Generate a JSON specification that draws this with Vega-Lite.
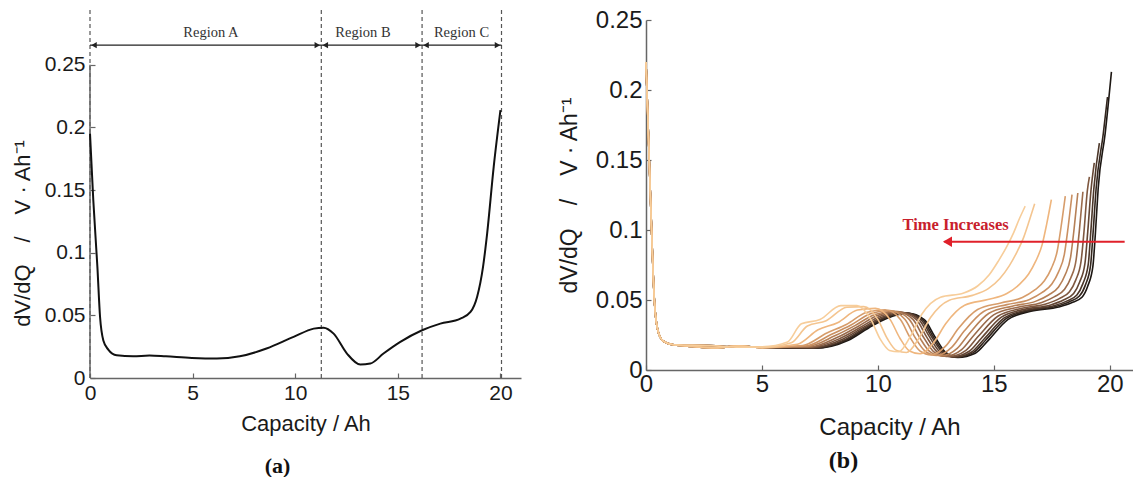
{
  "$schema": "https://vega.github.io/schema/vega-lite/v6.json",
  "padding": {"left": 11, "top": 8, "right": 0, "bottom": 0},
  "background": "white",
  "config": {
    "view": {"stroke": null},
    "axis": {
      "grid": false,
      "labelFlush": false,
      "labelFont": "Liberation Sans",
      "titleFont": "Liberation Sans",
      "titleFontWeight": "normal",
      "domainColor": "#666666",
      "domainWidth": 1.5,
      "tickColor": "#666666",
      "tickSize": -5,
      "tickWidth": 1.2,
      "labelColor": "#1a1a1a",
      "titleColor": "#1a1a1a",
      "labelPadding": 9
    }
  },
  "datasets": {
    "acurve": [
      {"x":0,"y":0.195},{"x":0.16,"y":0.142},{"x":0.36,"y":0.0887},{"x":0.49,"y":0.0487},{"x":0.65,"y":0.030},{"x":0.89,"y":0.0227},{"x":1.3,"y":0.0181},{"x":2.1,"y":0.0173},{"x":2.9,"y":0.0180},{"x":3.7,"y":0.0173},{"x":4.96,"y":0.016},{"x":6.18,"y":0.0155},{"x":7.3,"y":0.0173},{"x":8.6,"y":0.0235},{"x":9.92,"y":0.0328},{"x":10.9,"y":0.0394},{"x":11.38,"y":0.0402},{"x":11.87,"y":0.0354},{"x":12.52,"y":0.0195},{"x":13.17,"y":0.0107},{"x":13.66,"y":0.0115},{"x":14.3,"y":0.0195},{"x":15.12,"y":0.0288},{"x":16.18,"y":0.0381},{"x":17.07,"y":0.0434},{"x":18.05,"y":0.0474},{"x":18.54,"y":0.0527},{"x":18.86,"y":0.0647},{"x":19.15,"y":0.0887},{"x":19.35,"y":0.1153},{"x":19.67,"y":0.1685},{"x":20.0,"y":0.2138}
    ],
    "dash": [
      {"x":0,"y":0,"y2":0.2937},{"x":11.27,"y":0,"y2":0.2937},{"x":16.18,"y":0,"y2":0.2937},{"x":20.05,"y":0,"y2":0.2937}
    ],
    "yaxis": [{"x":0,"y":0,"y2":0.25}],
    "spans": [
      {"x":0,"xe":11.27,"y":0.2656},{"x":11.27,"xe":16.18,"y":0.2656},{"x":16.18,"xe":20.05,"y":0.2656}
    ],
    "labels": [
      {"x":5.89,"y":0.2755,"t":"Region A"},{"x":13.3,"y":0.2755,"t":"Region B"},{"x":18.1,"y":0.2755,"t":"Region C"}
    ],
    "timearrow": [{"x":12.87,"xe":20.64,"y":0.0916,"tx":13.35,"ty":0.1035,"t":"Time Increases"}],
    "bcurves": [
      {"c":0,"x":0,"y":0.22},{"c":0,"x":0.1,"y":0.17},{"c":0,"x":0.22,"y":0.11},{"c":0,"x":0.36,"y":0.05},{"c":0,"x":0.5,"y":0.029},{"c":0,"x":0.72,"y":0.021},{"c":0,"x":1.2,"y":0.018},{"c":0,"x":2,"y":0.0168},{"c":0,"x":3,"y":0.0158},{"c":0,"x":4,"y":0.0172},{"c":0,"x":5,"y":0.016},
      {"c":0,"x":7.3,"y":0.0155},{"c":0,"x":8.7,"y":0.021},{"c":0,"x":9.6,"y":0.030},{"c":0,"x":10.4,"y":0.037},{"c":0,"x":11.3,"y":0.0405},{"c":0,"x":12.0,"y":0.036},{"c":0,"x":12.45,"y":0.024},{"c":0,"x":12.9,"y":0.013},{"c":0,"x":13.45,"y":0.009},{"c":0,"x":14.2,"y":0.012},{"c":0,"x":14.75,"y":0.021},{"c":0,"x":15.6,"y":0.036},{"c":0,"x":16.6,"y":0.042},{"c":0,"x":17.8,"y":0.045},{"c":0,"x":18.35,"y":0.048},{"c":0,"x":18.8,"y":0.052},{"c":0,"x":19.05,"y":0.06},{"c":0,"x":19.27,"y":0.074},{"c":0,"x":19.38,"y":0.098},{"c":0,"x":19.5,"y":0.13},{"c":0,"x":19.8,"y":0.169},{"c":0,"x":20.07,"y":0.213},

      {"c":1,"x":0,"y":0.22},{"c":1,"x":0.1,"y":0.17},{"c":1,"x":0.22,"y":0.11},{"c":1,"x":0.36,"y":0.05},{"c":1,"x":0.5,"y":0.029},{"c":1,"x":0.72,"y":0.021},{"c":1,"x":1.2,"y":0.018},{"c":1,"x":2,"y":0.0178},{"c":1,"x":3,"y":0.0172},{"c":1,"x":4,"y":0.0162},{"c":1,"x":5,"y":0.0165},
      {"c":1,"x":7.264,"y":0.0156},{"c":1,"x":8.64,"y":0.0214},{"c":1,"x":9.537,"y":0.0302},{"c":1,"x":10.34,"y":0.0373},{"c":1,"x":11.234,"y":0.0407},{"c":1,"x":11.931,"y":0.036},{"c":1,"x":12.38,"y":0.0239},{"c":1,"x":12.828,"y":0.013},{"c":1,"x":13.37,"y":0.0091},{"c":1,"x":14.116,"y":0.0124},{"c":1,"x":14.66,"y":0.0216},{"c":1,"x":15.51,"y":0.0365},{"c":1,"x":16.51,"y":0.0424},{"c":1,"x":17.7,"y":0.0455},{"c":1,"x":18.24,"y":0.0486},{"c":1,"x":18.69,"y":0.0528},{"c":1,"x":18.95,"y":0.0608},{"c":1,"x":19.17,"y":0.0747},{"c":1,"x":19.28,"y":0.0983},{"c":1,"x":19.41,"y":0.1296},{"c":1,"x":19.72,"y":0.169},{"c":1,"x":19.9,"y":0.195},

      {"c":2,"x":0,"y":0.22},{"c":2,"x":0.1,"y":0.17},{"c":2,"x":0.22,"y":0.11},{"c":2,"x":0.36,"y":0.05},{"c":2,"x":0.5,"y":0.029},{"c":2,"x":0.72,"y":0.021},{"c":2,"x":1.2,"y":0.018},{"c":2,"x":2,"y":0.0168},{"c":2,"x":3,"y":0.0158},{"c":2,"x":4,"y":0.0172},{"c":2,"x":5,"y":0.016},
      {"c":2,"x":7.228,"y":0.0158},{"c":2,"x":8.58,"y":0.0217},{"c":2,"x":9.474,"y":0.0304},{"c":2,"x":10.28,"y":0.0375},{"c":2,"x":11.17,"y":0.0408},{"c":2,"x":11.86,"y":0.036},{"c":2,"x":12.31,"y":0.0239},{"c":2,"x":12.76,"y":0.0131},{"c":2,"x":13.3,"y":0.0092},{"c":2,"x":14.03,"y":0.0127},{"c":2,"x":14.58,"y":0.0221},{"c":2,"x":15.43,"y":0.037},{"c":2,"x":16.43,"y":0.0428},{"c":2,"x":17.59,"y":0.0459},{"c":2,"x":18.14,"y":0.0492},{"c":2,"x":18.58,"y":0.0536},{"c":2,"x":18.84,"y":0.0617},{"c":2,"x":19.07,"y":0.0754},{"c":2,"x":19.18,"y":0.0986},{"c":2,"x":19.31,"y":0.1292},{"c":2,"x":19.55,"y":0.162},

      {"c":3,"x":0,"y":0.22},{"c":3,"x":0.1,"y":0.17},{"c":3,"x":0.22,"y":0.11},{"c":3,"x":0.36,"y":0.05},{"c":3,"x":0.5,"y":0.029},{"c":3,"x":0.72,"y":0.021},{"c":3,"x":1.2,"y":0.018},{"c":3,"x":2,"y":0.0178},{"c":3,"x":3,"y":0.0172},{"c":3,"x":4,"y":0.0162},{"c":3,"x":5,"y":0.0165},
      {"c":3,"x":7.18,"y":0.016},{"c":3,"x":8.5,"y":0.0222},{"c":3,"x":9.39,"y":0.0306},{"c":3,"x":10.2,"y":0.0379},{"c":3,"x":11.08,"y":0.0411},{"c":3,"x":11.77,"y":0.036},{"c":3,"x":12.22,"y":0.0238},{"c":3,"x":12.66,"y":0.0131},{"c":3,"x":13.2,"y":0.0094},{"c":3,"x":13.92,"y":0.0132},{"c":3,"x":14.47,"y":0.0229},{"c":3,"x":15.31,"y":0.0376},{"c":3,"x":16.31,"y":0.0433},{"c":3,"x":17.45,"y":0.0465},{"c":3,"x":18.0,"y":0.05},{"c":3,"x":18.44,"y":0.0546},{"c":3,"x":18.7,"y":0.0628},{"c":3,"x":18.93,"y":0.0764},{"c":3,"x":19.05,"y":0.099},{"c":3,"x":19.19,"y":0.1287},{"c":3,"x":19.33,"y":0.148},

      {"c":4,"x":0,"y":0.22},{"c":4,"x":0.1,"y":0.17},{"c":4,"x":0.22,"y":0.11},{"c":4,"x":0.36,"y":0.05},{"c":4,"x":0.5,"y":0.029},{"c":4,"x":0.72,"y":0.021},{"c":4,"x":1.2,"y":0.018},{"c":4,"x":2,"y":0.0168},{"c":4,"x":3,"y":0.0158},{"c":4,"x":4,"y":0.0172},{"c":4,"x":5,"y":0.016},
      {"c":4,"x":7.12,"y":0.0162},{"c":4,"x":8.4,"y":0.0228},{"c":4,"x":9.29,"y":0.0309},{"c":4,"x":10.1,"y":0.0384},{"c":4,"x":10.97,"y":0.0413},{"c":4,"x":11.66,"y":0.036},{"c":4,"x":12.1,"y":0.0237},{"c":4,"x":12.54,"y":0.0132},{"c":4,"x":13.07,"y":0.0096},{"c":4,"x":13.78,"y":0.0138},{"c":4,"x":14.32,"y":0.0239},{"c":4,"x":15.17,"y":0.0384},{"c":4,"x":16.17,"y":0.044},{"c":4,"x":17.28,"y":0.0473},{"c":4,"x":17.82,"y":0.051},{"c":4,"x":18.26,"y":0.0559},{"c":4,"x":18.53,"y":0.0642},{"c":4,"x":18.76,"y":0.0776},{"c":4,"x":18.89,"y":0.0995},{"c":4,"x":19.03,"y":0.128},{"c":4,"x":19.12,"y":0.138},

      {"c":5,"x":0,"y":0.22},{"c":5,"x":0.1,"y":0.17},{"c":5,"x":0.22,"y":0.11},{"c":5,"x":0.36,"y":0.05},{"c":5,"x":0.5,"y":0.029},{"c":5,"x":0.72,"y":0.021},{"c":5,"x":1.2,"y":0.018},{"c":5,"x":2,"y":0.0178},{"c":5,"x":3,"y":0.0172},{"c":5,"x":4,"y":0.0162},{"c":5,"x":5,"y":0.0165},
      {"c":5,"x":7.05,"y":0.0164},{"c":5,"x":8.28,"y":0.0235},{"c":5,"x":9.16,"y":0.0313},{"c":5,"x":9.98,"y":0.0389},{"c":5,"x":10.84,"y":0.0417},{"c":5,"x":11.52,"y":0.036},{"c":5,"x":11.96,"y":0.0236},{"c":5,"x":12.4,"y":0.0132},{"c":5,"x":12.91,"y":0.0098},{"c":5,"x":13.61,"y":0.0145},{"c":5,"x":14.15,"y":0.025},{"c":5,"x":14.99,"y":0.0394},{"c":5,"x":15.99,"y":0.0447},{"c":5,"x":17.07,"y":0.0482},{"c":5,"x":17.6,"y":0.0522},{"c":5,"x":18.04,"y":0.0575},{"c":5,"x":18.32,"y":0.0659},{"c":5,"x":18.55,"y":0.079},{"c":5,"x":18.69,"y":0.1001},{"c":5,"x":18.84,"y":0.1273},

      {"c":6,"x":0,"y":0.22},{"c":6,"x":0.1,"y":0.17},{"c":6,"x":0.22,"y":0.11},{"c":6,"x":0.36,"y":0.05},{"c":6,"x":0.5,"y":0.029},{"c":6,"x":0.72,"y":0.021},{"c":6,"x":1.2,"y":0.018},{"c":6,"x":2,"y":0.0168},{"c":6,"x":3,"y":0.0158},{"c":6,"x":4,"y":0.0172},{"c":6,"x":5,"y":0.016},
      {"c":6,"x":6.96,"y":0.0168},{"c":6,"x":8.14,"y":0.0244},{"c":6,"x":9.01,"y":0.0317},{"c":6,"x":9.84,"y":0.0395},{"c":6,"x":10.68,"y":0.042},{"c":6,"x":11.36,"y":0.036},{"c":6,"x":11.79,"y":0.0234},{"c":6,"x":12.23,"y":0.0133},{"c":6,"x":12.74,"y":0.0101},{"c":6,"x":13.42,"y":0.0154},{"c":6,"x":13.95,"y":0.0263},{"c":6,"x":14.79,"y":0.0405},{"c":6,"x":15.79,"y":0.0456},{"c":6,"x":16.82,"y":0.0492},{"c":6,"x":17.36,"y":0.0536},{"c":6,"x":17.79,"y":0.0593},{"c":6,"x":18.07,"y":0.0678},{"c":6,"x":18.31,"y":0.0807},{"c":6,"x":18.46,"y":0.1008},{"c":6,"x":18.62,"y":0.1264},

      {"c":7,"x":0,"y":0.22},{"c":7,"x":0.1,"y":0.17},{"c":7,"x":0.22,"y":0.11},{"c":7,"x":0.36,"y":0.05},{"c":7,"x":0.5,"y":0.029},{"c":7,"x":0.72,"y":0.021},{"c":7,"x":1.2,"y":0.018},{"c":7,"x":2,"y":0.0178},{"c":7,"x":3,"y":0.0172},{"c":7,"x":4,"y":0.0162},{"c":7,"x":5,"y":0.0165},
      {"c":7,"x":6.87,"y":0.0171},{"c":7,"x":7.98,"y":0.0253},{"c":7,"x":8.84,"y":0.0322},{"c":7,"x":9.68,"y":0.0402},{"c":7,"x":10.51,"y":0.0425},{"c":7,"x":11.17,"y":0.036},{"c":7,"x":11.6,"y":0.0233},{"c":7,"x":12.04,"y":0.0134},{"c":7,"x":12.53,"y":0.0104},{"c":7,"x":13.19,"y":0.0163},{"c":7,"x":13.72,"y":0.0278},{"c":7,"x":14.56,"y":0.0418},{"c":7,"x":15.56,"y":0.0467},{"c":7,"x":16.54,"y":0.0504},{"c":7,"x":17.07,"y":0.0552},{"c":7,"x":17.5,"y":0.0614},{"c":7,"x":17.79,"y":0.0701},{"c":7,"x":18.04,"y":0.0826},{"c":7,"x":18.2,"y":0.1016},{"c":7,"x":18.37,"y":0.1253},

      {"c":8,"x":0,"y":0.22},{"c":8,"x":0.1,"y":0.17},{"c":8,"x":0.22,"y":0.11},{"c":8,"x":0.36,"y":0.05},{"c":8,"x":0.5,"y":0.029},{"c":8,"x":0.72,"y":0.021},{"c":8,"x":1.2,"y":0.018},{"c":8,"x":2,"y":0.0168},{"c":8,"x":3,"y":0.0158},{"c":8,"x":4,"y":0.0172},{"c":8,"x":5,"y":0.016},
      {"c":8,"x":6.76,"y":0.0175},{"c":8,"x":7.8,"y":0.0264},{"c":8,"x":8.66,"y":0.0327},{"c":8,"x":9.5,"y":0.0411},{"c":8,"x":10.31,"y":0.043},{"c":8,"x":10.97,"y":0.036},{"c":8,"x":11.39,"y":0.0231},{"c":8,"x":11.82,"y":0.0135},{"c":8,"x":12.3,"y":0.0108},{"c":8,"x":12.94,"y":0.0174},{"c":8,"x":13.47,"y":0.0296},{"c":8,"x":14.3,"y":0.0432},{"c":8,"x":15.3,"y":0.0479},{"c":8,"x":16.23,"y":0.0518},{"c":8,"x":16.75,"y":0.057},{"c":8,"x":17.18,"y":0.0637},{"c":8,"x":17.48,"y":0.0726},{"c":8,"x":17.73,"y":0.0848},{"c":8,"x":17.9,"y":0.1025},{"c":8,"x":18.08,"y":0.1242},

      {"c":10,"x":0,"y":0.22},{"c":10,"x":0.1,"y":0.17},{"c":10,"x":0.22,"y":0.11},{"c":10,"x":0.36,"y":0.05},{"c":10,"x":0.5,"y":0.029},{"c":10,"x":0.72,"y":0.021},{"c":10,"x":1.2,"y":0.018},{"c":10,"x":2,"y":0.0168},{"c":10,"x":3,"y":0.0158},{"c":10,"x":4,"y":0.0172},{"c":10,"x":5,"y":0.016},
      {"c":10,"x":6.53,"y":0.0184},{"c":10,"x":7.42,"y":0.0287},{"c":10,"x":8.26,"y":0.0338},{"c":10,"x":9.12,"y":0.0428},{"c":10,"x":9.89,"y":0.044},{"c":10,"x":10.53,"y":0.036},{"c":10,"x":10.95,"y":0.0227},{"c":10,"x":11.36,"y":0.0136},{"c":10,"x":11.82,"y":0.0116},{"c":10,"x":12.41,"y":0.0197},{"c":10,"x":12.93,"y":0.0332},{"c":10,"x":13.74,"y":0.0462},{"c":10,"x":14.74,"y":0.0503},{"c":10,"x":15.56,"y":0.0546},{"c":10,"x":16.08,"y":0.0608},{"c":10,"x":16.5,"y":0.0686},{"c":10,"x":16.81,"y":0.0779},{"c":10,"x":17.08,"y":0.0894},{"c":10,"x":17.28,"y":0.1044},{"c":10,"x":17.48,"y":0.1217},

      {"c":12,"x":0,"y":0.22},{"c":12,"x":0.1,"y":0.17},{"c":12,"x":0.22,"y":0.11},{"c":12,"x":0.36,"y":0.05},{"c":12,"x":0.5,"y":0.029},{"c":12,"x":0.72,"y":0.021},{"c":12,"x":1.2,"y":0.018},{"c":12,"x":2,"y":0.0168},{"c":12,"x":3,"y":0.0158},{"c":12,"x":4,"y":0.0172},{"c":12,"x":5,"y":0.016},
      {"c":12,"x":6.26,"y":0.0194},{"c":12,"x":6.96,"y":0.0314},{"c":12,"x":7.77,"y":0.0352},{"c":12,"x":8.66,"y":0.0448},{"c":12,"x":9.39,"y":0.0453},{"c":12,"x":10.0,"y":0.036},{"c":12,"x":10.41,"y":0.0223},{"c":12,"x":10.81,"y":0.0139},{"c":12,"x":11.23,"y":0.0125},{"c":12,"x":11.76,"y":0.0224},{"c":12,"x":12.27,"y":0.0375},{"c":12,"x":13.08,"y":0.0499},{"c":12,"x":14.08,"y":0.0533},{"c":12,"x":14.76,"y":0.0581},{"c":12,"x":15.26,"y":0.0654},{"c":12,"x":15.67,"y":0.0746},{"c":12,"x":16.0,"y":0.0844},{"c":12,"x":16.29,"y":0.0949},{"c":12,"x":16.53,"y":0.1067},{"c":12,"x":16.76,"y":0.1187},

      {"c":13,"x":0,"y":0.22},{"c":13,"x":0.1,"y":0.17},{"c":13,"x":0.22,"y":0.11},{"c":13,"x":0.36,"y":0.05},{"c":13,"x":0.5,"y":0.029},{"c":13,"x":0.72,"y":0.021},{"c":13,"x":1.2,"y":0.018},{"c":13,"x":2,"y":0.0178},{"c":13,"x":3,"y":0.0172},{"c":13,"x":4,"y":0.0162},{"c":13,"x":5,"y":0.0165},
      {"c":13,"x":6.1,"y":0.020},{"c":13,"x":6.7,"y":0.033},{"c":13,"x":7.5,"y":0.036},{"c":13,"x":8.4,"y":0.046},{"c":13,"x":9.1,"y":0.046},{"c":13,"x":9.7,"y":0.036},{"c":13,"x":10.1,"y":0.022},{"c":13,"x":10.5,"y":0.014},{"c":13,"x":10.9,"y":0.013},{"c":13,"x":11.4,"y":0.024},{"c":13,"x":11.9,"y":0.040},{"c":13,"x":12.7,"y":0.052},{"c":13,"x":13.7,"y":0.055},{"c":13,"x":14.3,"y":0.060},{"c":13,"x":14.8,"y":0.068},{"c":13,"x":15.2,"y":0.078},{"c":13,"x":15.55,"y":0.088},{"c":13,"x":15.85,"y":0.098},{"c":13,"x":16.1,"y":0.108},{"c":13,"x":16.35,"y":0.117}
    ]
  },
  "hconcat": [
    {
      "width": 431,
      "height": 358,
      "title": {"text": "(a)", "orient": "bottom", "font": "Liberation Serif", "fontWeight": "bold", "fontSize": 22, "color": "#111111", "offset": 22, "dx": -28},
      "layer": [
        {
          "data": {"name": "dash"},
          "mark": {"type": "rule", "strokeDash": [4, 3], "color": "#555555", "strokeWidth": 1.2},
          "encoding": {
            "x": {"field": "x", "type": "quantitative", "scale": {"domain": [0, 21], "nice": false, "zero": false},
                  "axis": {"title": "Capacity / Ah", "values": [0, 5, 10, 15, 20], "labelFontSize": 21, "titleFontSize": 22, "labelPadding": 9, "titlePadding": 10}},
            "y": {"field": "y", "type": "quantitative", "scale": {"domain": [0, 0.2857], "nice": false},
                  "axis": {"title": "dV/dQ\u2003/\u2003V · Ah⁻¹", "values": [0, 0.05, 0.1, 0.15, 0.2, 0.25], "format": "~g", "domain": false, "labelFontSize": 21, "titleFontSize": 22, "labelPadding": 10, "titlePadding": 10, "titleY": 213}},
            "y2": {"field": "y2"}
          }
        },
        {
          "data": {"name": "yaxis"},
          "mark": {"type": "rule", "color": "#666666", "strokeWidth": 1.5},
          "encoding": {
            "x": {"field": "x", "type": "quantitative"},
            "y": {"field": "y", "type": "quantitative"},
            "y2": {"field": "y2"}
          }
        },
        {
          "data": {"name": "spans"},
          "mark": {"type": "rule", "color": "#222222", "strokeWidth": 1.2},
          "encoding": {
            "x": {"field": "x", "type": "quantitative"},
            "x2": {"field": "xe"},
            "y": {"field": "y", "type": "quantitative"}
          }
        },
        {
          "data": {"name": "spans"},
          "mark": {"type": "point", "shape": "triangle-left", "filled": true, "color": "#222222", "size": 40, "opacity": 1, "xOffset": 4},
          "encoding": {
            "x": {"field": "x", "type": "quantitative"},
            "y": {"field": "y", "type": "quantitative"}
          }
        },
        {
          "data": {"name": "spans"},
          "mark": {"type": "point", "shape": "triangle-right", "filled": true, "color": "#222222", "size": 40, "opacity": 1, "xOffset": -4},
          "encoding": {
            "x": {"field": "xe", "type": "quantitative", "title": "Capacity / Ah"},
            "y": {"field": "y", "type": "quantitative"}
          }
        },
        {
          "data": {"name": "labels"},
          "mark": {"type": "text", "font": "Liberation Serif", "fontSize": 14.5, "color": "#333333"},
          "encoding": {
            "x": {"field": "x", "type": "quantitative"},
            "y": {"field": "y", "type": "quantitative"},
            "text": {"field": "t"}
          }
        },
        {
          "data": {"name": "acurve"},
          "mark": {"type": "line", "color": "#111111", "strokeWidth": 2, "interpolate": "monotone"},
          "encoding": {
            "x": {"field": "x", "type": "quantitative"},
            "y": {"field": "y", "type": "quantitative"}
          }
        }
      ]
    },
    {
      "width": 487,
      "height": 350,
      "title": {"text": "(b)", "orient": "bottom", "font": "Liberation Serif", "fontWeight": "bold", "fontSize": 24, "color": "#111111", "offset": 10, "dx": -46},
      "layer": [
        {
          "data": {"name": "bcurves"},
          "mark": {"type": "line", "strokeWidth": 1.6, "interpolate": "monotone"},
          "encoding": {
            "x": {"field": "x", "type": "quantitative", "scale": {"domain": [0, 21], "nice": false, "zero": false},
                  "axis": {"title": "Capacity / Ah", "values": [0, 5, 10, 15, 20], "labelFontSize": 24, "titleFontSize": 24, "labelPadding": 7, "titlePadding": 19}},
            "y": {"field": "y", "type": "quantitative", "scale": {"domain": [0, 0.25], "nice": false},
                  "axis": {"title": "dV/dQ\u2003/\u2003V · Ah⁻¹", "values": [0, 0.05, 0.1, 0.15, 0.2, 0.25], "format": "~g", "labelFontSize": 24, "titleFontSize": 23, "labelPadding": 9, "titlePadding": 14}},
            "color": {"field": "c", "type": "quantitative", "legend": null,
                      "scale": {"domain": [0, 13], "range": ["#1d1713", "#6b4a37", "#c48a5d", "#eeb47c", "#f7cd9a"]}},
            "detail": {"field": "c", "type": "nominal"}
          }
        },
        {
          "data": {"name": "timearrow"},
          "mark": {"type": "rule", "color": "#e0202a", "strokeWidth": 1.8},
          "encoding": {
            "x": {"field": "x", "type": "quantitative"},
            "x2": {"field": "xe"},
            "y": {"field": "y", "type": "quantitative"}
          }
        },
        {
          "data": {"name": "timearrow"},
          "mark": {"type": "point", "shape": "triangle-left", "filled": true, "color": "#e0202a", "size": 110, "opacity": 1, "xOffset": 3},
          "encoding": {
            "x": {"field": "x", "type": "quantitative"},
            "y": {"field": "y", "type": "quantitative"}
          }
        },
        {
          "data": {"name": "timearrow"},
          "mark": {"type": "text", "font": "Liberation Serif", "fontWeight": "bold", "fontSize": 16.5, "color": "#c8202c", "align": "center"},
          "encoding": {
            "x": {"field": "tx", "type": "quantitative"},
            "y": {"field": "ty", "type": "quantitative"},
            "text": {"field": "t"}
          }
        }
      ]
    }
  ],
  "spacing": 125,
  "bounds": "flush"
}
